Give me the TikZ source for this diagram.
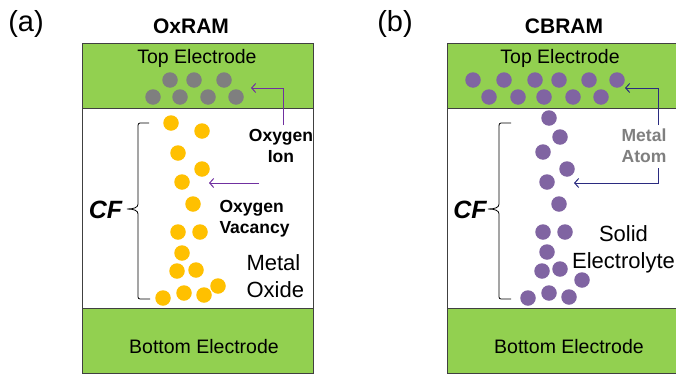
\documentclass[tikz,border=0pt]{standalone}
\usepackage{fontspec}
\setmainfont{Liberation Sans}
\usetikzlibrary{arrows.meta}
\definecolor{elgreen}{HTML}{92D050}
\definecolor{edgegray}{HTML}{404040}
\definecolor{iongray}{HTML}{7F7F7F}
\definecolor{vacyellow}{HTML}{FFC000}
\definecolor{atompurple}{HTML}{8064A2}
\definecolor{arrpurple}{HTML}{7030A0}
\definecolor{arrnavy}{HTML}{2B2B80}
\begin{document}
\begin{tikzpicture}[x=1pt,y=-1pt,
  electrode/.style={fill=elgreen, draw=edgegray, line width=1pt},
  layer/.style={fill=white, draw=edgegray, line width=1pt},
  dot/.style={circle, inner sep=0pt, minimum size=15.5pt},
  ion/.style={dot, fill=iongray},
  vac/.style={dot, fill=vacyellow},
  atom/.style={dot, fill=atompurple},
  arrowA/.style={draw=arrpurple, line width=1pt, -{Straight Barb[length=4pt,width=9pt]}},
  arrowB/.style={draw=arrnavy, line width=1pt, -{Straight Barb[length=4pt,width=9pt]}},
  bracestyle/.style={draw=black, line width=0.8pt},
  elabel/.style={anchor=base, font=\fontsize{19.5}{23}\selectfont},
  title/.style={anchor=base, font=\fontsize{21}{25}\selectfont\bfseries},
  panel/.style={anchor=base, font=\fontsize{29}{34}\selectfont},
  smallbold/.style={anchor=base, align=center, font=\fontsize{17.5}{21}\selectfont\bfseries},
  bigtext/.style={anchor=base, font=\fontsize{22}{27}\selectfont},
  cf/.style={anchor=base, font=\fontsize{25}{30}\selectfont\bfseries\itshape}
]
\useasboundingbox (0,0) rectangle (676,375);
\fill[white] (0,0) rectangle (676,375);

% ---------------- Panel (a) ----------------
\path[layer] (82,108) rectangle (313,308);
\path[electrode] (82,43) rectangle (313,108);
\path[electrode] (82,308) rectangle (313,373);

\node[panel] (pa) at (26,31) {(a)};
\node[title] (ta) at (191,33) {OxRAM};
\node[elabel] (tea) at (197,63) {Top Electrode};
\node[elabel] (bea) at (204,353) {Bottom Electrode};

\foreach [count=\i] \x/\y in {170/80,194/80,224/80,153/97,180/97,208/97,236/97}
  \node[ion] (ia\i) at (\x,\y) {};
\foreach [count=\i] \x/\y in {171/123,202/131,178/153,202/169,182/182,193/204,178/232,200/232,182/253,177/271,196/270,218/286,163/298,184/293,204/295}
  \node[vac] (va\i) at (\x,\y) {};

\node[smallbold] (oion) at (281,162) {Oxygen\\Ion};
\node[smallbold, anchor=base west, align=left] (ovac) at (216,233) {Oxygen\\Vacancy};
\node[bigtext, anchor=base west, align=left] (mox) at (243,297) {Metal\\Oxide};
\node[cf] (cfa) at (105.5,218) {CF};

\coordinate (a1s) at (283,125);
\coordinate (a1e) at (251,88);
\draw[arrowA] (a1s) |- (a1e);
\coordinate (a2s) at (259,183);
\coordinate (a2e) at (209,183);
\draw[arrowA] (a2s) -- (a2e);

\draw[bracestyle] (149,123) -- (140,123) to[out=180,in=90] (138,125.5) -- (138,204)
  .. controls (138,207.5) and (134,209) .. (127,209)
  .. controls (134,209) and (138,210.5) .. (138,214) -- (138,297)
  to[out=-90,in=180] (140,299) -- (150,299);

% ---------------- Panel (b) ----------------
\path[layer] (447,108) rectangle (678,308);
\path[electrode] (447,43) rectangle (678,108);
\path[electrode] (447,308) rectangle (678,373);

\node[panel] (pb) at (395,31) {(b)};
\node[title] (tb) at (564,33) {CBRAM};
\node[elabel] (teb) at (560,63) {Top Electrode};
\node[elabel] (beb) at (569,353) {Bottom Electrode};

\foreach [count=\i] \x/\y in {473/80,504/80,535/80,559/80,589/80,617/80,489/97,518/97,544/97,573/97,601/97}
  \node[atom] (tb\i) at (\x,\y) {};
\foreach [count=\i] \x/\y in {549/118,560/137,543/152,567/169,547/182,559/204,543/232,565/232,547/252,542/271,560/269,582/280,528/298,549/293,569/297}
  \node[atom] (fb\i) at (\x,\y) {};

\node[smallbold, text=iongray] (matom) at (644,162) {Metal\\Atom};
\node[bigtext, align=center, inner sep=0pt] (selec) at (623.5,268) {Solid\\Electrolyte};
\node[cf] (cfb) at (470,218) {CF};

\coordinate (b1s) at (658,125);
\coordinate (b1e) at (625,88);
\draw[arrowB] (b1s) |- (b1e);
\coordinate (b2s) at (658,168);
\coordinate (b2e) at (574,183);
\draw[arrowB] (b2s) |- (b2e);

\draw[bracestyle] (511,123) -- (501,123) to[out=180,in=90] (499,125.5) -- (499,204)
  .. controls (499,207.5) and (495,209) .. (488,209)
  .. controls (495,209) and (499,210.5) .. (499,214) -- (499,297)
  to[out=-90,in=180] (501,299) -- (511,299);
\end{tikzpicture}
\end{document}
